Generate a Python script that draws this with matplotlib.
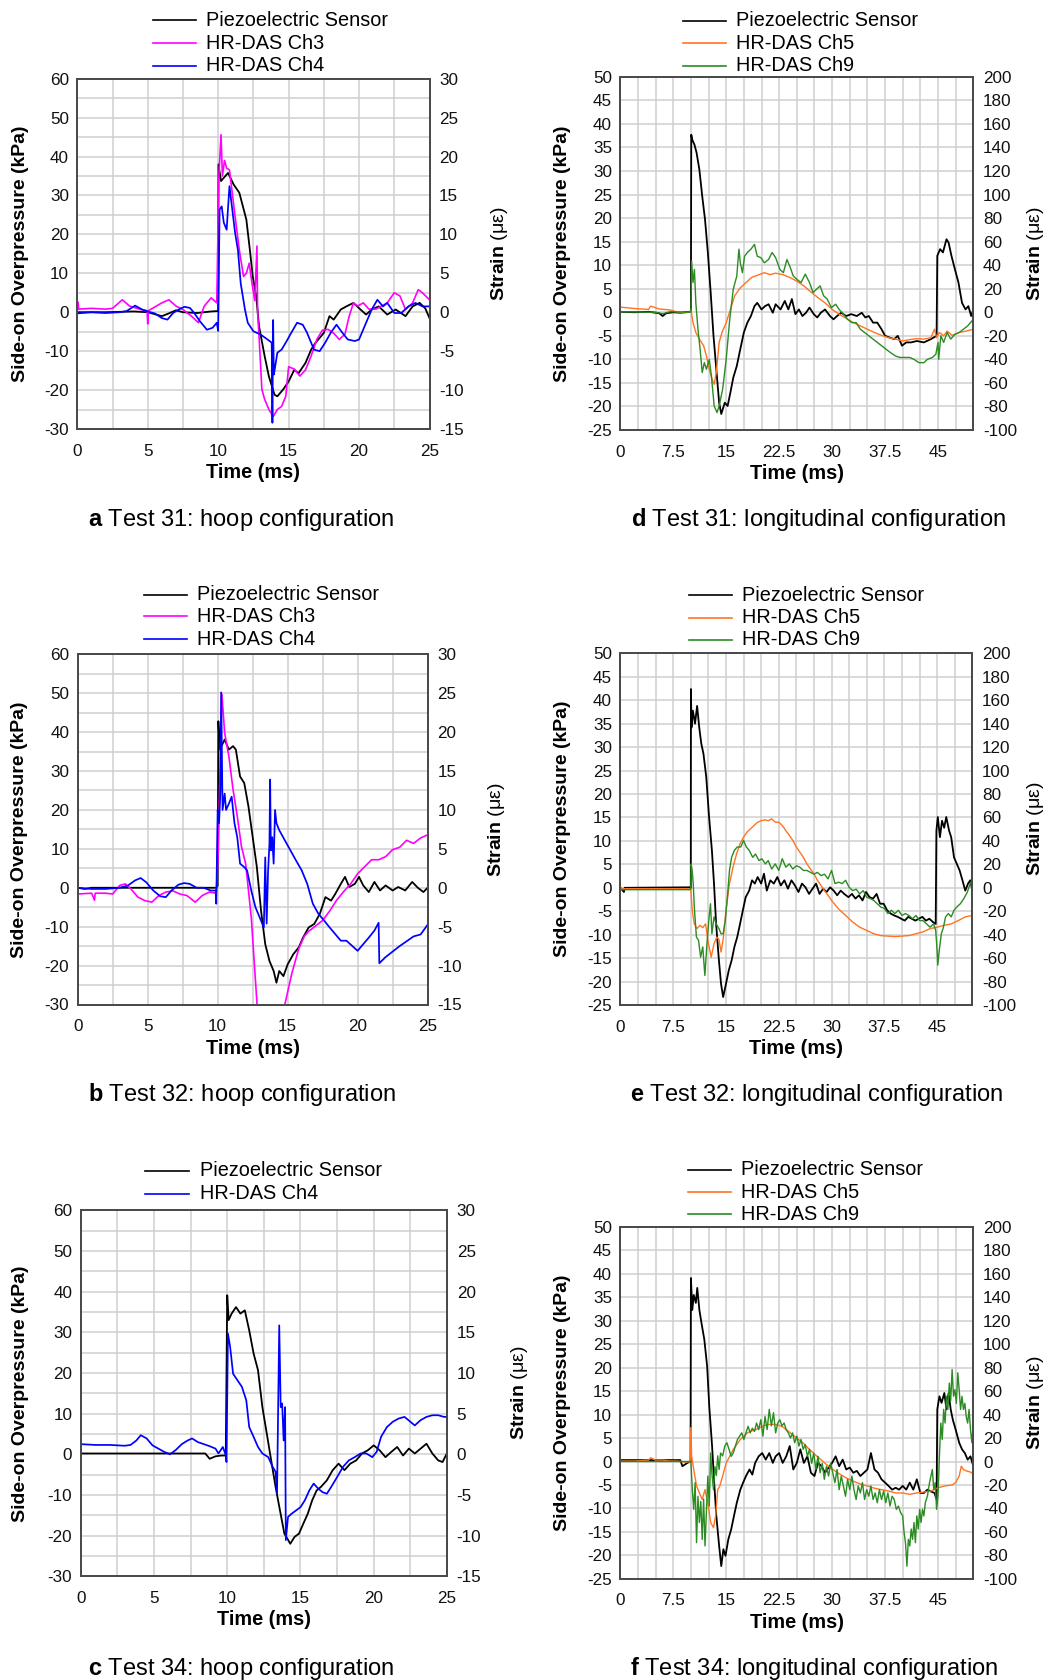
import numpy as np
import matplotlib
matplotlib.use("Agg")
import matplotlib.pyplot as plt
from matplotlib.lines import Line2D

plt.rcParams["font.family"] = ["Liberation Sans", "DejaVu Sans"]
plt.rcParams["mathtext.fontset"] = "custom"
plt.rcParams["mathtext.rm"] = "Liberation Sans"
plt.rcParams["mathtext.bf"] = "Liberation Sans:bold"
plt.rcParams["axes.unicode_minus"] = False

W, H = 1049, 1680

# ---- data: (time ms, value) ----
# pressure in kPa (left axis), strain in micro-strain (right axis)

a_piezo = [(0, 0), (2, 0), (4, 0.2), (5, 0), (6, -1.0), (6.5, -0.3), (7, 0.5), (7.5, 0), (8.5, -0.2), (9.5, 0.2),
           (10.0, 0.3), (10.02, 38), (10.2, 33.7), (10.7, 35.8), (11.1, 32.8), (11.5, 30.7), (12.0, 23.8),
           (12.25, 16), (12.45, 9.3), (12.7, 4.1), (12.9, -3.6), (13.3, -11.3), (13.6, -16.5), (14.0, -21.2),
           (14.2, -21.6), (14.6, -19.9), (15.0, -17.8), (15.4, -14.8), (15.7, -15.7), (16.2, -13), (16.6, -9.6),
           (16.9, -7.9), (17.5, -5.3), (17.9, -1), (18.2, -1.9), (18.7, 0.7), (19.1, 1.5), (19.6, 2.4),
           (20.1, 0.7), (20.5, -0.6), (20.9, 0.7), (21.4, 1.5), (22.0, -0.6), (22.6, 0.7), (23.3, -1),
           (23.8, 1.5), (24.3, 2.4), (24.7, 1.0), (25, -1.5)]
a_ch3 = [(0, 0.5), (0.05, 1.3), (0.1, 0.4), (1, 0.5), (2, 0.4), (2.5, 0.5), (3.2, 1.6), (3.7, 0.8), (4.5, 0.35),
         (4.95, 0.2), (5.0, -1.5), (5.05, 0.2), (6.0, 1.2), (6.5, 1.6), (7.0, 0.8), (7.5, 0.35), (8.1, -0.5),
         (8.6, -1.35), (9.0, 0.75), (9.5, 1.85), (9.9, 1.2), (10.05, 17.5), (10.2, 22.8), (10.3, 17.5),
         (10.45, 19.5), (10.6, 18.5), (10.8, 18.3), (11.0, 15.3), (11.2, 12.3), (11.5, 8.0), (11.8, 4.6),
         (12.0, 5.0), (12.2, 6.3), (12.4, 3.7), (12.6, 1.5), (12.75, 8.5), (12.8, 0), (12.9, -3.1),
         (13.1, -9.9), (13.3, -11.2), (13.6, -12.5), (13.9, -13.4), (14.2, -12.5), (14.5, -12.1),
         (14.8, -10.8), (15.0, -7.0), (15.4, -7.3), (15.8, -8.2), (16.2, -7.4), (16.6, -5.6), (17.0, -3.5),
         (17.4, -2.3), (17.8, -2.2), (18.2, -2.7), (18.6, -3.5), (19.0, -2.8), (19.3, -0.5), (19.6, 1.2),
         (19.9, 0.8), (20.3, 1.2), (20.7, 0.4), (21.2, 0.4), (21.6, 0.8), (22.0, 1.2), (22.5, 2.5),
         (22.9, 2.1), (23.3, 0.35), (23.8, 1.2), (24.2, 2.9), (24.5, 2.5), (25, 1.6)]
a_ch4 = [(0, -0.15), (1, 0), (2, -0.1), (3, 0), (3.5, 0.15), (4.1, 0.85), (4.6, 0.35), (5.0, 0.1), (5.5, -0.15),
         (6.0, -0.75), (6.4, -0.95), (6.8, -0.1), (7.2, 0.35), (7.6, 0.7), (8.0, 0.55), (8.3, -0.1),
         (8.7, -1.15), (9.2, -2.25), (9.6, -2.0), (9.9, -1.35), (10.0, -2.4), (10.1, 13.2), (10.25, 13.6),
         (10.4, 11.5), (10.6, 10.6), (10.8, 16.2), (11.0, 13.2), (11.2, 10.2), (11.4, 8.0), (11.6, 3.7),
         (11.9, 0.35), (12.1, -1.35), (12.5, -2.45), (13.0, -2.85), (13.5, -3.5), (13.8, -3.9),
         (13.85, -14.2), (13.9, -1.0), (13.95, -8), (14.0, -7.5), (14.2, -5.2), (14.5, -4.8), (14.8, -3.9),
         (15.2, -2.6), (15.6, -1.35), (16.0, -1.6), (16.3, -2.6), (16.8, -4.8), (17.2, -5.0), (17.6, -3.9),
         (18.0, -2.6), (18.4, -1.6), (18.8, -2.6), (19.2, -3.5), (19.7, -3.7), (20.0, -3.5), (20.5, -1.35),
         (20.9, 0.35), (21.3, 1.6), (21.7, 0.75), (22.0, 1.2), (22.5, -0.1), (23.0, -0.1), (23.5, 0.75),
         (24.0, 1.2), (24.5, 0.75), (25, 0.75)]

b_piezo = [(0, 0), (0.5, -0.3), (1, 0), (9.9, 0), (10.0, 0.5), (10.05, 42.8), (10.15, 35.5), (10.5, 38.1),
           (10.8, 35.5), (11.1, 36.4), (11.3, 35.5), (11.6, 28.6), (11.9, 26.9), (12.2, 20.9), (12.5, 13.1),
           (12.8, 5.3), (13.1, -5.9), (13.4, -14.5), (13.7, -18.8), (14.0, -21.4), (14.2, -24.4),
           (14.4, -21.4), (14.7, -22.7), (15.0, -19.7), (15.4, -17.1), (15.8, -15.3), (16.1, -12.8),
           (16.5, -10.2), (16.9, -9.3), (17.3, -6.7), (17.7, -2.4), (18.1, -3.3), (18.4, -1.6), (18.8, 1.0),
           (19.1, 2.8), (19.4, 0.2), (19.8, 1.0), (20.1, 2.8), (20.4, 0.6), (20.8, -1.1), (21.2, 1.5),
           (21.6, -0.7), (22.0, 0.6), (22.5, -0.7), (22.9, 0.2), (23.4, -0.7), (23.9, 1.5), (24.3, 0),
           (24.7, -1.1), (25, 0)]
b_ch3 = [(0, -0.8), (1, -0.7), (1.2, -1.6), (1.25, -0.7), (2, -0.7), (2.5, -0.8), (3.0, 0.3), (3.4, 0.5),
         (3.8, -0.15), (4.3, -1.2), (4.8, -1.65), (5.3, -1.85), (5.8, -1.0), (6.3, -0.55), (6.8, -0.4),
         (7.3, -0.8), (7.8, -1.0), (8.4, -1.85), (8.9, -1.0), (9.4, -0.55), (9.9, -0.7), (10.05, 4.9),
         (10.2, 17.8), (10.3, 24.9), (10.5, 19.9), (10.8, 16.9), (11.1, 12.6), (11.4, 9.2), (11.7, 5.3),
         (12.0, 3.1), (12.2, -0.35), (12.4, -3.8), (13.0, -20), (14.1, -20), (14.8, -15), (15.3, -11),
         (15.8, -7.8), (16.2, -6.2), (16.5, -5.6), (17.0, -4.9), (17.5, -4.2), (18.0, -3.0), (18.5, -1.6),
         (19.0, -0.5), (19.5, 0.5), (20.0, 1.8), (20.5, 2.7), (21.0, 3.6), (21.5, 3.6), (22.0, 4.0),
         (22.5, 4.9), (23.0, 5.2), (23.5, 6.1), (24.0, 5.7), (24.5, 6.4), (25, 6.8)]
b_ch4 = [(0, 0), (1, -0.15), (2, -0.15), (3, 0), (3.6, 0.3), (4.1, 0.95), (4.5, 1.25), (4.9, 0.7), (5.4, -0.35),
         (5.9, -1.1), (6.3, -1.2), (6.7, -0.35), (7.2, 0.4), (7.6, 0.6), (8.0, 0.5), (8.5, 0), (9.0, 0),
         (9.5, -0.35), (9.85, -0.35), (9.9, -2.05), (10.0, 10), (10.1, 8.3), (10.2, 12.6), (10.25, 25.1),
         (10.35, 10), (10.5, 12.1), (10.6, 10), (10.8, 10.8), (11.0, 11.7), (11.2, 8.3), (11.4, 6.5),
         (11.6, 3.1), (11.9, 2.65), (12.1, 2.25), (12.4, -0.35), (12.7, -2.5), (13.0, -3.8), (13.3, -5.1),
         (13.4, 3.9), (13.5, -4.6), (13.6, 2.0), (13.7, 5.7), (13.75, 13.9), (13.8, 4.8), (13.9, 6.5),
         (14.0, 3.1), (14.1, 10), (14.2, 8.3), (14.4, 7.4), (14.8, 6.1), (15.2, 4.8), (15.6, 3.5),
         (16.0, 2.25), (16.4, 0.5), (16.8, -2.05), (17.2, -3.35), (17.6, -4.2), (18.0, -5.1), (18.4, -5.95),
         (18.8, -6.8), (19.2, -6.8), (19.6, -7.45), (20.0, -8.1), (20.4, -7.25), (20.8, -6.4), (21.2, -5.5),
         (21.5, -4.5), (21.55, -9.7), (22.0, -8.9), (23.0, -7.5), (24.0, -6.25), (24.5, -6.0), (25, -4.75)]

c_piezo = [(0, 0.2), (4, 0.2), (8.5, 0.2), (8.8, -1.1), (9.2, -0.5), (9.6, -0.3), (9.9, -0.3), (10.0, 39.1),
           (10.1, 33), (10.3, 34.6), (10.6, 36.2), (10.9, 34.6), (11.2, 35.4), (11.5, 30.5), (11.8, 24.8),
           (12.1, 20.7), (12.4, 11.6), (12.7, 5.1), (13.0, -1.5), (13.3, -8), (13.6, -13.8), (13.9, -19.5),
           (14.1, -20.7), (14.3, -22), (14.6, -20.3), (14.9, -19.5), (15.2, -17), (15.5, -14.6),
           (15.8, -11.3), (16.1, -8.9), (16.4, -8), (16.8, -6.4), (17.2, -3.9), (17.6, -2.3), (18.0, -3.9),
           (18.4, -2.3), (18.8, -1.5), (19.2, 0.2), (19.6, 1.0), (20.0, 2.2), (20.4, 1.0), (20.8, -0.7),
           (21.2, 0.6), (21.6, 1.8), (22.0, -0.3), (22.4, 1.4), (22.8, 0.2), (23.2, 1.4), (23.6, 2.6),
           (24.0, 0.2), (24.4, -1.5), (24.7, -1.9), (25, 0.3)]
c_ch4 = [(0, 1.25), (1, 1.15), (2, 1.15), (3, 1.05), (3.4, 1.15), (3.8, 1.7), (4.1, 2.35), (4.5, 1.95),
         (4.9, 1.1), (5.3, 0.7), (5.7, 0.3), (6.1, 0), (6.5, 0.55), (6.9, 1.25), (7.3, 1.7), (7.6, 1.95),
         (8.0, 1.5), (8.4, 1.25), (8.8, 1.0), (9.2, 0.7), (9.4, 0.1), (9.7, 0.9), (9.9, -0.1), (9.95, -0.95),
         (10.05, 14.85), (10.2, 13.2), (10.4, 9.9), (10.7, 9.1), (11.0, 8.3), (11.3, 6.65), (11.5, 3.35),
         (11.8, 2.15), (12.1, 0.9), (12.4, 0.1), (12.8, -0.35), (13.1, -1.55), (13.3, -2.15), (13.4, -4.8),
         (13.55, 15.85), (13.65, 5.8), (13.75, 6.25), (13.85, 1.7), (13.95, 5.8), (14.0, -10.55),
         (14.15, -7.7), (14.4, -7.3), (14.7, -6.9), (15.0, -6.5), (15.3, -5.65), (15.6, -4.45), (15.9, -3.6),
         (16.2, -4.2), (16.5, -4.65), (16.8, -4.85), (17.1, -4.0), (17.5, -2.8), (17.9, -1.55), (18.3, -0.75),
         (18.7, -0.35), (19.1, 0.1), (19.5, 0.1), (19.9, -0.35), (20.2, 0.3), (20.5, 2.15), (20.9, 3.35),
         (21.3, 4.0), (21.7, 4.4), (22.1, 4.6), (22.5, 4.0), (22.8, 3.55), (23.2, 4.2), (23.6, 4.6),
         (24.0, 4.8), (24.4, 4.8), (24.8, 4.6), (25, 4.6)]

d_piezo = [(0, 0.1), (2, 0), (4, 0.1), (5.5, -0.2), (6.0, -0.8), (6.5, -0.2), (7.5, 0), (8.5, -0.1), (9.9, 0.1),
           (10.0, 0.2), (10.05, 37.7), (10.2, 36.6), (10.5, 35.6), (10.8, 33.9), (11.2, 30.3), (11.6, 24.7),
           (12.0, 19.7), (12.4, 12.7), (12.8, 4.2), (13.2, -5), (13.6, -12.1), (14.0, -19.2), (14.3, -21.6),
           (14.8, -19.2), (15.2, -19.9), (15.6, -17), (16.0, -13.9), (16.5, -11.4), (17.0, -7.8),
           (17.5, -4.3), (18.0, -2.2), (18.5, -0.8), (19.0, 1.3), (19.4, 2.0), (20.0, 0.6), (20.5, 1.3),
           (21.0, 1.7), (21.6, -0.1), (22.0, 1.7), (22.7, 0.6), (23.3, 2.4), (23.8, 0.6), (24.3, 2.8),
           (24.8, -0.4), (25.3, 0.6), (25.8, -0.8), (26.3, -0.1), (26.8, 1.0), (27.4, -0.4), (27.9, -1.1),
           (28.4, -0.1), (29.0, 0.6), (29.7, -0.8), (30.2, -1.5), (30.7, -0.8), (31.3, -0.1), (32.0, -0.8),
           (32.7, -0.4), (33.5, -0.8), (34.2, -0.1), (34.7, -1.1), (35.2, -0.8), (35.8, -2.2), (36.4, -2.2),
           (37.0, -3.6), (37.5, -5.0), (38.2, -5.4), (38.8, -5.7), (39.3, -5.0), (39.9, -7.1), (40.5, -6.4),
           (41.2, -6.4), (42.0, -6.1), (43.0, -6.4), (44.0, -5.7), (44.8, -5.0), (44.9, 12.0), (45.3, 13.4),
           (45.7, 12.7), (46.2, 15.5), (46.5, 14.8), (46.9, 12.0), (47.4, 9.1), (47.9, 6.3), (48.4, 2.0),
           (48.9, 0.6), (49.3, 1.3), (49.7, -0.8), (50, 0.6)]
d_ch5 = [(0, 4.4), (2, 3.2), (4, 2.4), (4.3, 5.2), (5.5, 2.8), (7, 2.0), (8, 0.4), (9, -0.4), (9.8, 0),
         (10.0, 2.4), (10.3, -8.8), (10.7, -17.2), (11.2, -22.8), (11.8, -28.4), (12.2, -37.2), (12.6, -48.4),
         (13.0, -56.8), (13.3, -61.2), (13.6, -51.2), (14.0, -25.6), (14.4, -17.2), (15.0, -8.8),
         (15.6, 2.4), (16.2, 14.0), (17.0, 20.8), (17.8, 25.2), (18.6, 29.6), (19.5, 31.6), (20.4, 33.6),
         (21.2, 32.0), (22.0, 33.2), (23.0, 32.0), (24.0, 29.6), (25.0, 26.4), (26.0, 22.4), (27.0, 17.2),
         (28.0, 12.4), (29.0, 8.0), (30.0, 2.4), (31.0, -1.6), (32.0, -5.2), (33.0, -8.8), (34.0, -11.6),
         (35.0, -14.4), (36.0, -17.2), (37.0, -19.6), (38.0, -21.6), (39.0, -22.8), (40.0, -24.4),
         (41.0, -23.2), (42.0, -22.4), (43.0, -22.8), (44.0, -21.6), (44.5, -14.4), (44.8, -21.6),
         (45.2, -17.2), (45.8, -20.0), (46.3, -16.0), (47.0, -19.6), (48.0, -17.2), (49.0, -16.0),
         (50, -14.4)]
d_ch9 = [(0, 0.4), (5, 0), (6, -1.2), (7, 0.4), (9.8, 0), (10.0, 0.4), (10.1, 43.6), (10.3, 25.2), (10.5, 36.4),
         (10.7, 8.0), (11.0, -14.4), (11.3, -31.2), (11.6, -51.2), (11.9, -42.8), (12.2, -48.4), (12.6, -40.0),
         (12.9, -54.0), (13.3, -79.6), (13.7, -85.2), (14.0, -79.6), (14.5, -65.2), (15.0, -40.0),
         (15.5, -6.0), (16.0, 19.6), (16.5, 30.8), (16.8, 53.6), (17.0, 42.0), (17.3, 33.6), (17.6, 47.6),
         (18.0, 50.8), (18.5, 53.6), (19.0, 57.6), (19.4, 47.6), (19.9, 46.4), (20.4, 42.0), (21.0, 44.8),
         (21.5, 50.8), (22.0, 46.4), (22.6, 36.4), (23.1, 33.6), (23.6, 44.8), (24.1, 37.6), (24.5, 30.8),
         (25.0, 28.0), (25.6, 25.2), (26.2, 32.4), (26.8, 25.2), (27.3, 16.8), (27.8, 19.6), (28.3, 22.4),
         (28.8, 14.0), (29.3, 11.2), (29.9, 4.0), (30.5, 6.8), (31.0, 2.4), (31.6, -1.6), (32.2, -6.0),
         (32.8, -8.8), (33.4, -8.8), (34.0, -14.4), (34.6, -17.2), (35.2, -20.0), (35.8, -22.8),
         (36.4, -25.6), (37.0, -28.4), (37.6, -31.2), (38.3, -34.4), (39.0, -37.2), (39.6, -38.4),
         (40.3, -38.4), (41.0, -38.4), (41.6, -40.0), (42.3, -42.8), (43.0, -42.8), (43.5, -40.0),
         (44.2, -38.4), (44.7, -35.6), (45.0, -25.6), (45.1, -40.0), (45.4, -20.0), (45.8, -25.6),
         (46.3, -17.2), (46.8, -22.8), (47.4, -18.8), (48.0, -17.2), (48.6, -14.4), (49.2, -11.6), (50, -6.0)]

e_piezo = [(0, 0), (0.5, -0.9), (0.6, 0), (9.9, 0.1), (10.0, 0), (10.02, 42.4), (10.1, 34.2), (10.3, 37.8),
           (10.6, 35.0), (10.9, 38.8), (11.2, 34.2), (11.5, 30.7), (11.8, 28.6), (12.2, 23.6), (12.6, 15.1),
           (13.0, 8.0), (13.3, 0.9), (13.6, -7.7), (14.0, -15.5), (14.3, -20.5), (14.6, -23.3), (15.0, -20.5),
           (15.4, -17.6), (15.8, -15.5), (16.2, -12.6), (16.6, -10.5), (17.0, -7.7), (17.4, -4.8),
           (17.8, -2.0), (18.3, -0.6), (18.7, 1.6), (19.1, 0.9), (19.5, 2.3), (20.0, 0.9), (20.4, 3.0),
           (20.8, -0.6), (21.3, 1.6), (21.8, 0.9), (22.3, 2.3), (22.8, 0.5), (23.3, 1.6), (23.8, -0.2),
           (24.3, 1.6), (24.8, 0.5), (25.3, -0.9), (25.8, 0.9), (26.3, 0.1), (26.8, -1.3), (27.3, -0.2),
           (27.8, 0.9), (28.3, -1.3), (28.8, -0.2), (29.3, -0.9), (29.8, 0.1), (30.3, -0.6), (30.8, -1.6),
           (31.3, -0.6), (31.8, -1.3), (32.4, -2.0), (32.9, -1.3), (33.4, -2.3), (33.9, -1.6), (34.4, -2.7),
           (34.9, -0.9), (35.4, -2.0), (35.9, -2.3), (36.4, -1.3), (36.9, -3.4), (37.4, -3.4), (37.9, -4.8),
           (38.4, -5.5), (38.9, -5.9), (39.4, -6.2), (39.9, -6.6), (40.4, -7.0), (40.9, -6.2), (41.4, -6.6),
           (41.9, -7.0), (42.4, -6.6), (42.9, -6.2), (43.4, -7.0), (43.9, -6.6), (44.4, -7.3), (44.8, -7.7),
           (44.9, 12.2), (45.1, 15.1), (45.4, 10.8), (45.7, 14.3), (46.0, 12.8), (46.3, 15.1), (46.7, 12.2),
           (47.0, 10.8), (47.4, 6.5), (47.8, 5.1), (48.2, 3.7), (48.6, 1.6), (49.0, -0.6), (49.4, 0.9),
           (49.7, 1.6), (50, -0.6)]
e_ch5 = [(0, -0.8), (9.9, -0.8), (10.0, -0.8), (10.2, -19.2), (10.5, -30.8), (10.9, -34.8), (11.3, -32.0),
         (11.7, -34.0), (12.1, -30.8), (12.5, -47.6), (12.9, -59.2), (13.3, -47.6), (13.7, -42.0),
         (14.0, -44.0), (14.3, -54.8), (14.6, -44.0), (15.0, -19.2), (15.5, 3.6), (16.0, 17.6), (16.5, 28.8),
         (17.0, 37.6), (17.5, 43.2), (18.0, 47.6), (18.5, 50.4), (19.0, 53.2), (19.5, 56.0), (20.0, 57.2),
         (20.5, 58.0), (21.0, 57.2), (21.5, 58.8), (22.0, 56.0), (22.5, 56.0), (23.0, 53.2), (23.5, 48.8),
         (24.0, 44.8), (24.5, 40.4), (25.0, 34.8), (25.5, 30.4), (26.0, 26.0), (26.5, 20.4), (27.0, 16.0),
         (27.5, 12.0), (28.0, 6.4), (28.5, 2.0), (29.0, -2.4), (29.5, -6.4), (30.0, -10.8), (31.0, -18.0),
         (32.0, -23.6), (33.0, -29.2), (34.0, -33.6), (35.0, -36.4), (36.0, -39.2), (37.0, -40.8),
         (38.0, -41.2), (39.0, -41.6), (40.0, -41.2), (41.0, -40.8), (42.0, -39.2), (43.0, -37.6),
         (44.0, -34.8), (45.0, -33.6), (46.0, -32.0), (47.0, -30.8), (48.0, -28.0), (49.0, -24.8),
         (50, -23.6)]
e_ch9 = [(0, -1.6), (9.9, -1.6), (10.0, -0.8), (10.05, 20.4), (10.2, 14.8), (10.35, 3.6), (10.5, -16.4),
         (10.8, -42.0), (11.1, -44.8), (11.4, -59.2), (11.7, -50.4), (12.0, -74.8), (12.3, -47.6),
         (12.6, -24.8), (12.8, -13.6), (13.0, -39.2), (13.3, -24.8), (13.6, -30.8), (14.0, -34.8),
         (14.3, -39.2), (14.6, -39.2), (14.9, -28.0), (15.2, -8.0), (15.5, 14.8), (15.8, 26.0), (16.2, 32.0),
         (16.6, 34.8), (17.1, 34.8), (17.5, 40.4), (17.9, 34.8), (18.3, 32.0), (18.8, 26.0), (19.2, 28.8),
         (19.7, 23.2), (20.1, 24.8), (20.6, 20.4), (21.0, 23.2), (21.5, 16.0), (22.0, 20.4), (22.5, 14.8),
         (23.0, 24.8), (23.5, 17.6), (24.0, 20.4), (24.5, 16.0), (25.0, 18.8), (25.5, 17.6), (26.0, 14.8),
         (26.5, 14.8), (27.0, 13.2), (27.5, 11.6), (28.0, 13.2), (28.5, 10.4), (29.0, 11.6), (29.5, 7.6),
         (30.0, 14.8), (30.5, 3.6), (31.0, 4.8), (31.5, 3.6), (32.0, 6.4), (32.5, 0.4), (33.0, -2.4),
         (33.5, -1.2), (34.0, -5.2), (34.5, -2.4), (35.0, -8.0), (35.5, -9.2), (36.0, -10.8), (36.5, -13.6),
         (37.0, -16.4), (37.5, -17.6), (38.0, -22.0), (38.5, -19.2), (39.0, -22.0), (39.5, -19.2),
         (40.0, -23.6), (40.5, -22.0), (41.0, -23.6), (41.5, -26.4), (42.0, -23.6), (42.5, -28.0),
         (43.0, -28.0), (43.5, -30.8), (44.0, -33.6), (44.5, -30.8), (44.8, -36.4), (45.0, -53.6),
         (45.1, -66.0), (45.3, -53.6), (45.6, -39.2), (45.9, -33.6), (46.2, -24.8), (46.6, -22.0),
         (47.0, -24.8), (47.4, -19.2), (47.8, -16.4), (48.3, -13.6), (48.8, -9.2), (49.3, -3.6), (49.7, 3.6),
         (50, 6.4)]

f_piezo = [(0, 0.3), (4, 0.3), (8.5, 0.3), (8.8, -1.0), (9.5, -0.3), (9.95, 0), (10.0, 39.1), (10.2, 32.3),
           (10.4, 35.5), (10.7, 33.8), (10.9, 37.0), (11.2, 32.3), (11.5, 29.5), (11.9, 26.0), (12.3, 20.3),
           (12.6, 11.8), (13.0, 3.3), (13.3, -4.5), (13.6, -11.6), (14.0, -18.0), (14.3, -22.3), (14.6, -18.7),
           (14.9, -20.1), (15.3, -16.6), (15.7, -14.5), (16.1, -11.6), (16.5, -8.8), (17.0, -6.0),
           (17.4, -4.5), (17.8, -3.1), (18.3, -1.7), (18.7, -2.8), (19.1, -0.3), (19.6, 1.1), (20.1, 1.8),
           (20.6, 0.4), (21.1, 1.8), (21.6, -0.3), (22.0, 1.1), (22.5, 1.8), (23.0, -0.3), (23.5, 1.1),
           (24.0, 3.3), (24.5, -1.7), (25.0, -0.3), (25.5, 2.6), (26.0, -0.3), (26.5, 1.1), (27.0, -2.4),
           (27.5, -3.1), (28.0, -0.3), (28.5, -1.0), (29.0, -2.4), (29.5, -1.3), (30.0, -0.3), (30.5, 1.1),
           (31.0, -1.0), (31.5, 0.4), (32.0, -1.7), (32.5, -1.3), (33.0, -2.4), (33.5, -2.0), (34.0, -3.1),
           (34.5, -2.4), (35.0, -1.7), (35.5, 1.8), (36.0, -1.7), (36.5, -2.4), (37.0, -3.8), (37.5, -4.5),
           (38.0, -5.2), (38.5, -6.0), (39.0, -5.6), (39.5, -6.0), (40.0, -5.2), (40.5, -6.0), (41.0, -4.5),
           (41.5, -6.0), (42.0, -3.8), (42.5, -6.7), (43.0, -6.7), (43.5, -6.0), (44.0, -6.4), (44.5, -6.7),
           (44.8, -8.1), (44.9, 11.1), (45.2, 13.9), (45.5, 12.5), (45.9, 14.6), (46.2, 11.1), (46.5, 14.6),
           (46.8, 11.1), (47.1, 8.9), (47.5, 6.8), (48.0, 4.0), (48.4, 2.6), (48.8, 1.8), (49.2, 0.4),
           (49.6, 1.1), (50, -1.0)]
f_ch5 = [(0, 0.4), (2, 0.4), (4, 1.2), (4.3, 3.2), (5, 1.2), (6, 1.2), (7, 0.4), (8, 0.4), (9, -0.4), (9.9, -0.4),
         (10.0, 28.8), (10.1, 4.4), (10.4, -6.8), (10.8, -20.8), (11.2, -26.8), (11.6, -32.4), (12.0, -24.0),
         (12.4, -35.2), (12.8, -52.0), (13.2, -56.4), (13.5, -46.4), (13.8, -24.0), (14.1, -20.8),
         (14.5, -12.4), (15.0, -1.2), (15.5, 4.4), (16.0, 10.4), (16.5, 14.4), (17.0, 18.8), (17.5, 21.6),
         (18.0, 24.4), (18.5, 26.0), (19.0, 26.8), (19.5, 28.0), (20.0, 29.6), (20.5, 30.8), (21.0, 31.6),
         (21.5, 31.6), (22.0, 31.6), (22.5, 30.8), (23.0, 29.6), (23.5, 27.2), (24.0, 24.8), (24.5, 22.4),
         (25.0, 20.0), (25.5, 17.6), (26.0, 15.2), (26.5, 12.0), (27.0, 9.2), (27.5, 6.4), (28.0, 3.6),
         (28.5, 1.2), (29.0, -1.6), (29.5, -4.0), (30.0, -6.4), (31.0, -10.4), (32.0, -14.0), (33.0, -16.8),
         (34.0, -19.2), (35.0, -20.8), (36.0, -22.8), (37.0, -24.0), (38.0, -25.2), (39.0, -26.8),
         (40.0, -26.8), (41.0, -28.0), (42.0, -26.8), (43.0, -26.0), (44.0, -25.2), (45.0, -22.4),
         (46.0, -20.8), (47.0, -20.0), (47.5, -18.0), (48.0, -12.4), (48.3, -4.0), (48.6, -6.8), (49.0, -8.0),
         (49.5, -8.8), (50, -10.4)]
f_ch9 = [(0, 0), (9.9, 0), (10.0, 0), (10.2, -24), (10.4, -40.8), (10.6, -18), (10.8, -69.2), (11.0, -29.6),
         (11.2, -52), (11.4, -34), (11.6, -66.4), (11.8, -32), (12.0, -72), (12.2, -42), (12.4, -12.4),
         (12.6, -38), (12.8, 7.2), (13.0, -12), (13.2, -24), (13.4, -4.4), (13.6, -12), (13.8, 4.8),
         (14.0, -6.8), (14.2, 7.2), (14.5, 4.8), (14.8, 13.2), (15.1, 16.0), (15.4, 10.4), (15.7, 4.4),
         (16.0, 7.2), (16.3, 13.2), (16.6, 18.8), (16.9, 21.6), (17.2, 24.4), (17.5, 18.8), (17.8, 24.4),
         (18.1, 30.0), (18.4, 24.4), (18.7, 28.4), (19.0, 25.6), (19.3, 32.8), (19.6, 27.2), (19.9, 35.6),
         (20.2, 21.6), (20.5, 38.4), (20.8, 27.2), (21.1, 44.4), (21.4, 30.4), (21.7, 41.6), (22.0, 24.4),
         (22.3, 32.8), (22.6, 35.6), (22.9, 30.4), (23.2, 32.8), (23.5, 27.2), (23.8, 24.4), (24.1, 20.0),
         (24.4, 24.4), (24.7, 16.0), (25.0, 21.6), (25.3, 13.2), (25.6, 18.8), (25.9, 10.4), (26.2, 14.4),
         (26.5, 4.4), (26.8, 10.4), (27.1, -1.6), (27.4, 7.2), (27.7, -6.8), (28.0, 4.4), (28.3, -9.6),
         (28.6, -1.6), (28.9, -15.2), (29.2, -4.0), (29.5, -12.4), (29.8, -1.6), (30.1, -9.6), (30.4, -18.0),
         (30.7, -6.8), (31.0, -24.0), (31.3, -12.4), (31.6, -20.8), (31.9, -29.6), (32.2, -15.2),
         (32.5, -24.0), (32.8, -12.4), (33.1, -24.0), (33.4, -32.4), (33.7, -20.8), (34.0, -26.8),
         (34.3, -18.0), (34.6, -32.4), (34.9, -24.0), (35.2, -29.6), (35.5, -20.8), (35.8, -32.4),
         (36.1, -26.8), (36.4, -35.2), (36.7, -24.0), (37.0, -32.4), (37.3, -25.2), (37.6, -35.2),
         (37.9, -26.8), (38.2, -38.0), (38.5, -29.6), (38.8, -32.4), (39.1, -40.8), (39.4, -38.0),
         (39.7, -43.6), (40.0, -46.4), (40.2, -60.8), (40.4, -69.6), (40.6, -89.2), (40.8, -66.4),
         (41.0, -72.0), (41.2, -57.6), (41.4, -66.4), (41.6, -52.0), (41.8, -69.2), (42.0, -46.4),
         (42.2, -57.6), (42.4, -40.8), (42.6, -52.0), (42.8, -40.8), (43.0, -46.4), (43.2, -35.2),
         (43.5, -29.6), (43.8, -18.0), (44.0, -12.4), (44.2, -6.8), (44.4, -24.0), (44.6, -18.0),
         (44.8, -40.8), (45.0, -29.6), (45.2, 4.4), (45.4, 32.8), (45.6, 18.8), (45.8, 44.4), (46.0, 32.8),
         (46.2, 55.6), (46.4, 44.4), (46.6, 66.8), (46.8, 52.0), (47.0, 78.4), (47.2, 55.6), (47.4, 61.2),
         (47.6, 49.6), (47.8, 75.6), (48.0, 61.2), (48.2, 44.4), (48.4, 55.6), (48.6, 44.4), (48.8, 49.6),
         (49.0, 38.0), (49.2, 32.8), (49.4, 44.4), (49.6, 27.2), (49.8, 16.0), (50, 32.8)]

PIEZO = "Piezoelectric Sensor"
COLORS = {"Piezoelectric Sensor": "#000000", "HR-DAS Ch3": "#ff00ff", "HR-DAS Ch4": "#0000ff",
          "HR-DAS Ch5": "#ff7422", "HR-DAS Ch9": "#2a8c22"}
WIDTHS = {"Piezoelectric Sensor": 1.3, "HR-DAS Ch3": 1.2, "HR-DAS Ch4": 1.25,
          "HR-DAS Ch5": 1.0, "HR-DAS Ch9": 1.0}

fig = plt.figure(figsize=(W / 100, H / 100), dpi=100)


def fx(x):
    return x / W


def fy(y):
    return 1 - y / H


def panel(box, hoop, piezo, strains, leg, ylab_x, strain_x, caption, cap_xy):
    l, t, r, b = box
    w, h = r - l, b - t
    ax = fig.add_axes([fx(l), fy(b), w / W, h / H])
    ax2 = ax.twinx()

    if hoop:
        xmax, xmaj = 25, np.arange(0, 25.1, 5)
        ylo, yhi, ymaj = -30, 60, np.arange(-30, 60.1, 10)
        slo, shi, smaj = -15, 30, np.arange(-15, 30.1, 5)
    else:
        xmax, xmaj = 50, np.arange(0, 45.1, 7.5)
        ylo, yhi, ymaj = -25, 50, np.arange(-25, 50.1, 5)
        slo, shi, smaj = -100, 200, np.arange(-100, 200.1, 20)

    ax.set_xlim(0, xmax)
    ax.set_ylim(ylo, yhi)
    ax2.set_ylim(slo, shi)
    ax.set_xticks(xmaj)
    ax.set_xticklabels([f"{v:g}" for v in xmaj])
    ax.set_xticks(np.arange(0, xmax + 0.1, 2.5), minor=True)
    ax.set_yticks(ymaj)
    ax.set_yticklabels([f"{v:g}" for v in ymaj])
    ax.set_yticks(np.arange(ylo, yhi + 0.1, 5), minor=True)
    ax2.set_yticks(smaj)
    ax2.set_yticklabels([f"{v:g}" for v in smaj])

    ax.grid(which="both", color="#cfcfcf", lw=1.1)
    ax.set_axisbelow(True)
    ax.tick_params(which="both", length=0, labelsize=12.3, colors="#111111")
    ax.tick_params(axis="x", pad=10.5)
    ax.tick_params(axis="y", pad=6)
    ax2.tick_params(length=0, labelsize=12.3, colors="#111111", pad=7)
    for a in (ax, ax2):
        for s in a.spines.values():
            s.set_color("#4a4a4a")
            s.set_linewidth(1.3)

    tp, vp = np.array(piezo).T
    ax.plot(tp, vp, color=COLORS[PIEZO], lw=WIDTHS[PIEZO])
    for name, series in strains:
        ts, vs = np.array(series).T
        ax2.plot(ts, vs, color=COLORS[name], lw=WIDTHS[name])

    ax.set_xlabel("Time (ms)", fontsize=14.3, fontweight="bold")
    ax.xaxis.set_label_coords(0.5, -43.5 / h)
    ax.xaxis.label.set_va("center")
    ax.set_ylabel("Side-on Overpressure (kPa)", fontsize=14, fontweight="bold")
    ax.yaxis.set_label_coords(-(l - ylab_x) / w, 0.5)
    ax.yaxis.label.set_va("center")

    fig.text(fx(strain_x), fy((t + b) / 2), r"$\mathbf{Strain}$ (με)", rotation=90,
             ha="center", va="center", fontsize=14)

    x0, x1, xt, ys = leg
    names = [PIEZO] + [n for n, _ in strains]
    for name, y in zip(names, ys):
        fig.add_artist(Line2D([fx(x0), fx(x1)], [fy(y), fy(y)], color=COLORS[name], lw=1.2,
                              transform=fig.transFigure))
        fig.text(fx(xt), fy(y), name, fontsize=14.3, ha="left", va="center")

    fig.text(fx(cap_xy[0]), fy(cap_xy[1]), caption, ha="center", va="baseline", fontsize=17)


panel((77.3, 78.7, 429.5, 429), True, a_piezo, [("HR-DAS Ch3", a_ch3), ("HR-DAS Ch4", a_ch4)],
      (153, 196, 206, [20.3, 43.3, 65.5]), 20.7, 499, r"$\mathbf{a}$ Test 31: hoop configuration", (241, 526))
panel((620.3, 76.8, 973.3, 430), False, d_piezo, [("HR-DAS Ch5", d_ch5), ("HR-DAS Ch9", d_ch9)],
      (683, 726, 735.5, [20.5, 43.3, 65.5]), 562.3, 1035.5,
      r"$\mathbf{d}$ Test 31: longitudinal configuration", (818.3, 526))
panel((77.7, 654.3, 427.6, 1004.5), True, b_piezo, [("HR-DAS Ch3", b_ch3), ("HR-DAS Ch4", b_ch4)],
      (144, 187, 197, [594.8, 616.5, 639.2]), 20, 496.5,
      r"$\mathbf{b}$ Test 32: hoop configuration", (241.7, 1101.2))
panel((620.4, 653.4, 972.3, 1005), False, e_piezo, [("HR-DAS Ch5", e_ch5), ("HR-DAS Ch9", e_ch9)],
      (689, 732, 741.7, [595.3, 617.5, 639.7]), 562.3, 1035,
      r"$\mathbf{e}$ Test 32: longitudinal configuration", (817, 1101.2))
panel((80.7, 1210.3, 447, 1576.3), True, c_piezo, [("HR-DAS Ch4", c_ch4)],
      (145, 189.3, 200, [1170.8, 1193.5]), 20.7, 519,
      r"$\mathbf{c}$ Test 34: hoop configuration", (240.8, 1675))
panel((620.3, 1226.9, 973.3, 1578.8), False, f_piezo, [("HR-DAS Ch5", f_ch5), ("HR-DAS Ch9", f_ch9)],
      (688, 731, 741, [1169.5, 1192, 1214]), 562.3, 1035,
      r"$\mathbf{f}$ Test 34: longitudinal configuration", (814, 1675))

fig.savefig("out.png", dpi=100)
